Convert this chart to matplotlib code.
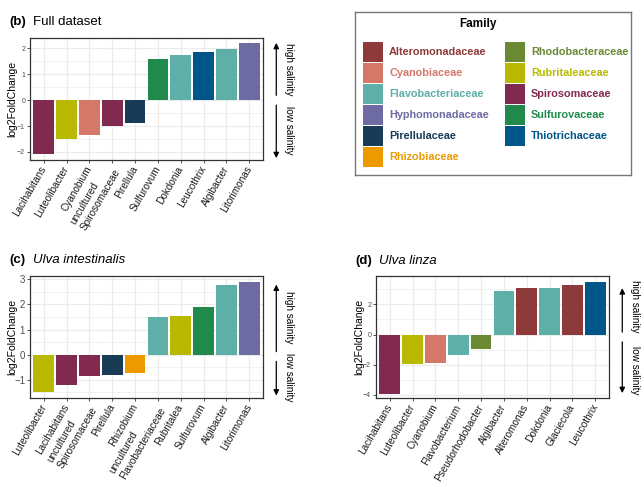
import matplotlib
matplotlib.use("Agg")
import matplotlib.pyplot as plt
from matplotlib.patches import Rectangle
from matplotlib.ticker import MultipleLocator

plt.rcParams['font.family'] = ['Liberation Sans', 'DejaVu Sans']

# family colours
families = ["Alteromonadaceae", "Cyanobiaceae", "Flavobacteriaceae", "Hyphomonadaceae",
            "Pirellulaceae", "Rhizobiaceae", "Rhodobacteraceae", "Rubritaleaceae",
            "Spirosomaceae", "Sulfurovaceae", "Thiotrichaceae"]
family_colors = ["#8E3A3B", "#D4786A", "#5DAFA8", "#6E6BA2",
                 "#183C55", "#EC9A00", "#6A8932", "#B8B900",
                 "#82294F", "#1F8A4B", "#005688"]
colmap = dict(zip(families, family_colors))

# (b) full dataset
b_genus = ["Lacihabitans", "Luteolibacter", "Cyanobium", "uncultured\nSpirosomaceae", "Pirellula",
           "Sulfurovum", "Dokdonia", "Leucothrix", "Algibacter", "Litorimonas"]
b_lfc = [-2.09, -1.49, -1.33, -1.0, -0.87, 1.58, 1.73, 1.85, 1.96, 2.19]
b_fam = ["Spirosomaceae", "Rubritaleaceae", "Cyanobiaceae", "Spirosomaceae", "Pirellulaceae",
         "Sulfurovaceae", "Flavobacteriaceae", "Thiotrichaceae", "Flavobacteriaceae", "Hyphomonadaceae"]

# (c) Ulva intestinalis
c_genus = ["Luteolibacter", "Lacihabitans", "uncultured\nSpirosomaceae", "Pirellula", "Rhizobium",
           "uncultured\nFlavobacteriaceae", "Rubritalea", "Sulfurovum", "Algibacter", "Litorimonas"]
c_lfc = [-1.49, -1.22, -0.83, -0.79, -0.74, 1.51, 1.55, 1.90, 2.79, 2.89]
c_fam = ["Rubritaleaceae", "Spirosomaceae", "Spirosomaceae", "Pirellulaceae", "Rhizobiaceae",
         "Flavobacteriaceae", "Rubritaleaceae", "Sulfurovaceae", "Flavobacteriaceae", "Hyphomonadaceae"]

# (d) Ulva linza
d_genus = ["Lacihabitans", "Luteolibacter", "Cyanobium", "Flavobacterium", "Pseudorhodobacter",
           "Algibacter", "Alteromonas", "Dokdonia", "Glaciecola", "Leucothrix"]
d_lfc = [-3.93, -1.94, -1.88, -1.35, -0.95, 2.89, 3.09, 3.09, 3.31, 3.49]
d_fam = ["Spirosomaceae", "Rubritaleaceae", "Cyanobiaceae", "Flavobacteriaceae", "Rhodobacteraceae",
         "Flavobacteriaceae", "Alteromonadaceae", "Flavobacteriaceae", "Alteromonadaceae", "Thiotrichaceae"]

W, H = 644, 487
fig = plt.figure(figsize=(W / 100, H / 100), dpi=100)


def px_axes(x0, y0, x1, y1):
    return fig.add_axes([x0 / W, 1 - y1 / H, (x1 - x0) / W, (y1 - y0) / H])


def panel(ax, genus, lfc, fam, ylim, major, minor, ticksize, labx, arrows):
    x = range(len(genus))
    ax.bar(x, lfc, width=0.9, color=[colmap[f] for f in fam], zorder=3)
    ax.set_xlim(-0.6, len(genus) - 0.4)
    ax.set_ylim(*ylim)
    ax.yaxis.set_major_locator(MultipleLocator(major))
    ax.yaxis.set_minor_locator(MultipleLocator(minor))
    ax.set_xticks(list(x))
    ax.set_xticklabels(genus, rotation=60, ha="right", va="center", rotation_mode="anchor",
                       multialignment="left", fontsize=7.2, color="#1a1a1a", linespacing=1.2)
    ax.grid(which="major", color="#EBEBEB", lw=0.9, zorder=0)
    ax.grid(which="minor", axis="y", color="#EBEBEB", lw=0.5, zorder=0)
    ax.tick_params(axis="y", which="major", labelsize=ticksize, labelcolor="#4D4D4D",
                   length=2, width=0.6, color="#333333", pad=1.5)
    ax.tick_params(axis="x", which="major", length=2, width=0.6, color="#333333", pad=3)
    ax.tick_params(which="minor", length=0)
    ax.set_ylabel("log2FoldChange", fontsize=7.5)
    ax.yaxis.set_label_coords(labx, 0.5)
    for s in ax.spines.values():
        s.set_color("#333333")
        s.set_linewidth(0.9)
    hs, he, ls, le, ht, lt = arrows
    for a, b in [(hs, he), (ls, le)]:
        ax.annotate("", xy=(1.057, b), xytext=(1.057, a), xycoords="axes fraction",
                    annotation_clip=False,
                    arrowprops=dict(arrowstyle="-|>", color="black", lw=0.9,
                                    mutation_scale=8, shrinkA=0, shrinkB=0))
    ax.text(1.11, ht, "high salinity", transform=ax.transAxes, rotation=270,
            ha="center", va="center", fontsize=7.2)
    ax.text(1.11, lt, "low salinity", transform=ax.transAxes, rotation=270,
            ha="center", va="center", fontsize=7.2)


ax_b = px_axes(30, 38, 263, 160)
panel(ax_b, b_genus, b_lfc, b_fam, (-2.31, 2.4), 1, 0.5, 5, -0.055,
      (0.53, 0.96, 0.45, 0.015, 0.745, 0.24))
ax_c = px_axes(30, 276, 263, 398)
panel(ax_c, c_genus, c_lfc, c_fam, (-1.72, 3.13), 1, 0.5, 7, -0.055,
      (0.38, 0.93, 0.30, 0.02, 0.66, 0.17))
ax_d = px_axes(376, 276, 609, 398)
panel(ax_d, d_genus, d_lfc, d_fam, (-4.22, 3.89), 2, 1, 5, -0.05,
      (0.54, 0.90, 0.46, 0.04, 0.75, 0.23))

# panel titles
for (x, y, tag, title, style) in [(9, 22, "(b)", "Full dataset", "normal"),
                                  (9, 260, "(c)", "Ulva intestinalis", "italic"),
                                  (355, 261, "(d)", "Ulva linza", "italic")]:
    fig.text(x / W, 1 - y / H, tag, fontsize=9.5, fontweight="bold", va="center")
    fig.text((x + 24) / W, 1 - y / H, title, fontsize=9.5, style=style, va="center")

# legend
lg = px_axes(355, 12, 631, 175)
lg.set_xlim(0, 276)
lg.set_ylim(163, 0)
lg.set_xticks([])
lg.set_yticks([])
for s in lg.spines.values():
    s.set_color("#777777")
    s.set_linewidth(1.0)
lg.text(123, 12, "Family", fontsize=8.5, fontweight="bold", ha="center", va="center")
for i, fam in enumerate(families):
    col, row = divmod(i, 6)
    kx = 8 + col * 142
    ky = 30 + row * 21
    lg.add_patch(Rectangle((kx, ky), 20, 20, color=colmap[fam], lw=0))
    lg.text(kx + 26, ky + 10, fam, color=colmap[fam], fontsize=7.8, fontweight="bold",
            va="center", ha="left")

fig.savefig("out.png", dpi=100)
